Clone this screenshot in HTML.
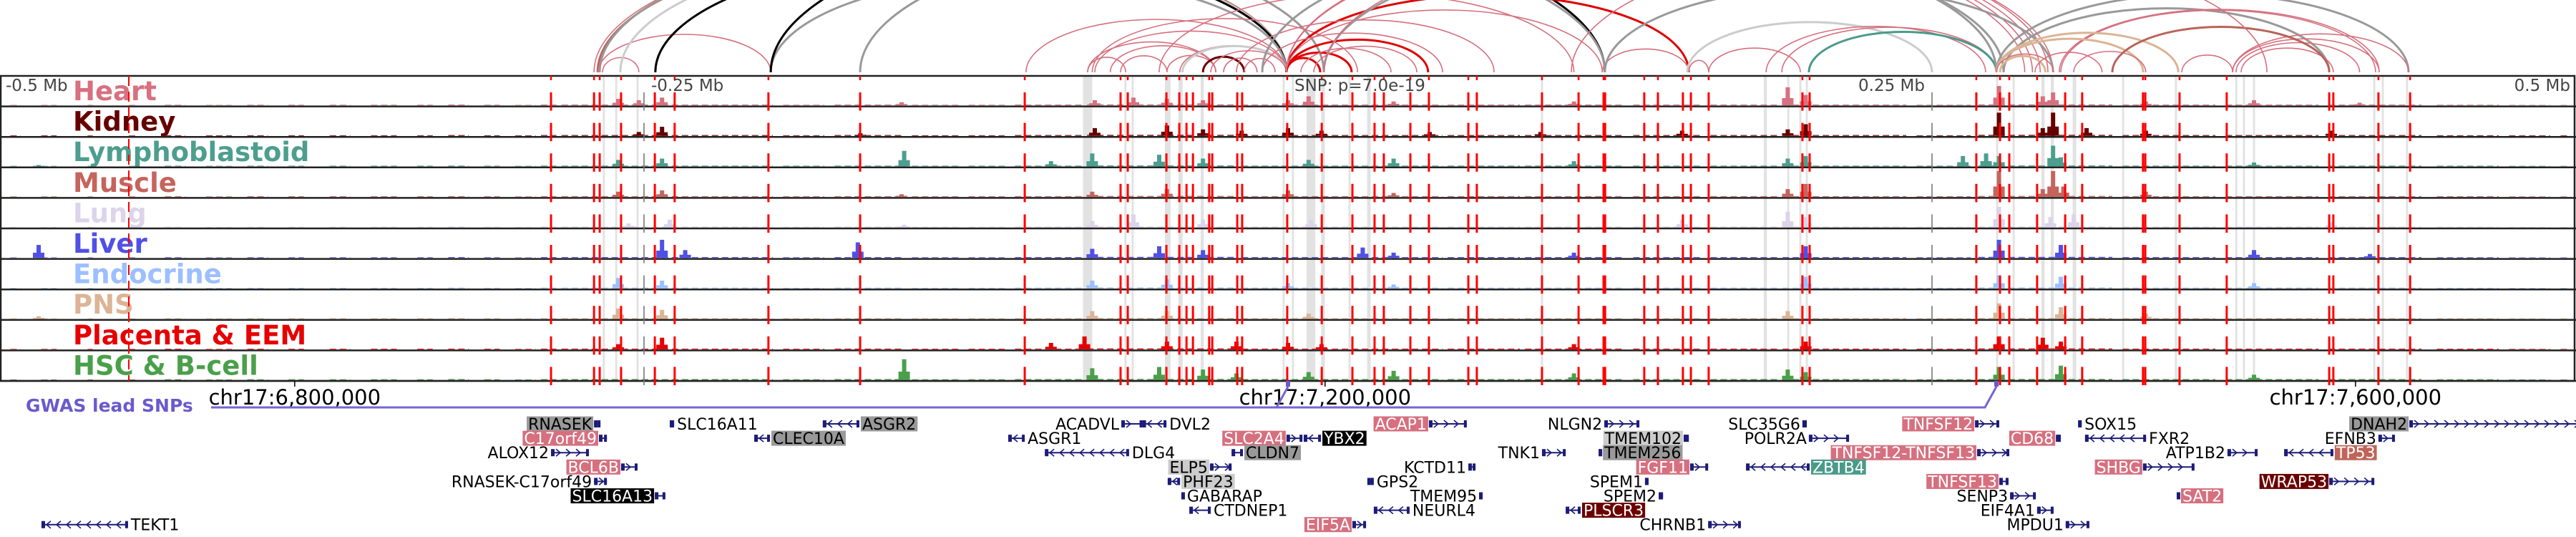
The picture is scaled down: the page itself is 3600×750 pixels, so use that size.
<!DOCTYPE html>
<html><head><meta charset="utf-8">
<style>
html,body{margin:0;padding:0;background:#fff;}
svg{display:block;}
text{font-family:"DejaVu Sans","Liberation Sans",sans-serif;}
</style></head>
<body>
<svg id="chart" width="3600" height="750" viewBox="0 0 3600 750" xmlns="http://www.w3.org/2000/svg">
<g id="arcs"></g>
<g id="bands"></g>
<g id="tracks"></g>
<g id="redlines"></g>
<g id="axis"></g>
<g id="gwas"></g>
<g id="genes"></g>
</svg>
<script>
// ---- data (kb offsets relative to lead SNP) ----
const tissues = ["Heart","Kidney","Lymphoblastoid","Muscle","Lung","Liver","Endocrine","PNS","Placenta & EEM","HSC & B-cell"];
const tissueColors = ["#d8707f","#660000","#4d9e8e","#c5645d","#dcd4ea","#5050e6","#9cbfff","#dcb495","#e60000","#4aa04a"];
const axisTickKb = [-500,-250,250,500];
const axisTickLabels = ["-0.5 Mb","-0.25 Mb","0.25 Mb","0.5 Mb"];
const snpLabel = "SNP: p=7.0e-19";
const chrTickKb = [-385.6,14.4,414.4];
const chrTickLabels = ["chr17:6,800,000","chr17:7,200,000","chr17:7,600,000"];
const gwasSnpKb = [0,275];
const indexLineKb = -450;
const redLineKb = [-286.1,-269.4,-267.2,-258.9,-245.8,-238.1,-201.7,-166.1,-102.2,-65,-62.2,-47.2,-42.2,-39.4,-36.9,-30.6,-29.4,-19.7,-17.8,-0.3,13.1,25,33.6,37.2,47.5,54.7,70,73.3,98.6,112.8,122.5,123.1,138.3,143.6,153.3,156.4,163.3,199.7,202.5,267.2,276.4,280,290.8,301.7,308.3,331.9,332.8,346.1,364.4,404.2,405.8,423.3,435.6];
const bandStartKb = [-266.0,-261.2,-252.9,-79.6,-63.5,-60.7,-47.8,-42.5,-33.9,-2.1,1.5,7.2,12.9,23.5,30.7,98.2,184.7,193.8,198.5,201.0,274.9,281.3,292.5,296.1,304.6,323.8,344.3,367.7,370.7,374.6,421.3,424.6,434.0];
const bandEndKb   = [-265.2,-260.4,-252.1,-76.0,-62.7,-59.9,-45.6,-40.9,-32.7,-1.3,2.3,10.6,14.3,24.3,32.1,99.0,185.9,194.6,199.3,201.8,275.7,282.1,293.7,297.3,306.0,324.6,345.1,368.5,371.5,375.4,422.1,425.4,434.8];
const baseSegs = [[-496,-492,.03],[-484,-478,.03],[-466,-464,.03],[-450,-447,.03],[-436,-428,.04],[-420,-410,.03],[-404,-396,.04],[-388,-382,.04],[-372,-364,.04],[-356,-346,.04],[-338,-332,.04],[-326,-318,.05],[-312,-306,.04],[-300,-292,.03],[-290,-284,.05],[-282,-200,.05],[-196,-180,.04],[-176,-150,.05],[-146,-128,.04],[-124,-110,.04],[-106,-80,.05],[-78,-20,.06],[-18,60,.05],[62,90,.05],[92,130,.05],[134,160,.05],[164,190,.05],[192,240,.05],[244,265,.04],[268,320,.06],[324,360,.05],[364,400,.05],[404,440,.05],[446,470,.04],[474,490,.03],[494,498,.03]];
const peaksHeart = [[-260,.25],[-252,.2],[-243,.3],[-150,.12],[-75,.2],[-60,.3],[-47,.25],[-33,.2],[0,.2],[8,.35],[41,.15],[111,.15],[194,.7],[201,.4],[276,.75],[293,.35],[297,.5],[333,.15],[375,.2],[416,.1]];
const peaksKidney = [[-252,.15],[-243,.35],[-166,.1],[-75,.3],[-47,.4],[-33,.25],[-18,.2],[0,.3],[13,.2],[55,.15],[98,.15],[153,.2],[194,.25],[201,.45],[276,.9],[293,.3],[297,.9],[310,.3],[333,.2],[405,.2]];
const peaksLympho = [[-485,.05],[-260,.25],[-243,.3],[-149,.6],[-92,.2],[-76,.5],[-50,.45],[-33,.3],[8,.25],[41,.3],[111,.2],[194,.3],[201,.4],[262,.4],[271,.5],[276,.4],[297,.8],[300,.35],[375,.15]];
const peaksMuscle = [[-260,.2],[-243,.25],[-150,.1],[-76,.2],[-47,.3],[0,.25],[41,.15],[194,.3],[201,.5],[276,1],[293,.3],[297,1],[301,.4],[333,.2]];
const peaksLung = [[-256,.15],[-240,.3],[-149,.1],[-76,.25],[-60,.5],[-33,.3],[9,.3],[153,.3],[194,.6],[201,.4],[276,.8],[296,.4],[305,.5],[405,.2]];
const peaksLiver = [[-485,.5],[-243,.7],[-234,.3],[-167,.6],[-76,.35],[-50,.45],[-33,.3],[29,.4],[41,.2],[111,.2],[201,.45],[276,.7],[300,.5],[375,.3],[420,.15]];
const peaksEndocrine = [[-260,.4],[-243,.3],[-76,.3],[-47,.35],[0,.2],[41,.15],[201,.45],[276,.5],[300,.45],[375,.2]];
const peaksPNS = [[-485,.1],[-260,.4],[-243,.35],[-76,.3],[-47,.3],[8,.2],[194,.3],[276,.6],[300,.45],[333,.2]];
const peaksPlacenta = [[-260,.2],[-243,.45],[-92,.25],[-79,.5],[-47,.3],[-20,.3],[0,.25],[13,.2],[111,.2],[201,.3],[276,.5],[293,.45],[300,.3]];
const peaksHSC = [[-149,.8],[-76,.45],[-50,.5],[-33,.4],[-20,.25],[8,.3],[41,.35],[111,.25],[194,.4],[201,.3],[276,.5],[300,.55],[375,.2]];
const trackPeaks = [peaksHeart,peaksKidney,peaksLympho,peaksMuscle,peaksLung,peaksLiver,peaksEndocrine,peaksPNS,peaksPlacenta,peaksHSC];
const arcStartKb = [-269.4,-268,-267.2,-266.1,-267.8,-259.2,-245.6,-200.8,-200.8,-166.1,-101.7,-77.8,-77.8,-76,-75,-69,-65,-47,-42,-41,-33,-30,-25,-17,-0.6,-0.6,-0.6,-0.6,-0.6,-0.6,-0.6,-20,-50,-10,5,10,122,155,155.6,163.3,185.6,191.7,202.2,-10,13.9,-0.6,-0.6,-0.6,-0.6,13.9,123,275,277.8,299.4,300,275,275,276.4,275,290,305,366.7,368,370,347,366.7,320,110];
const arcEndKb   = [-0.6,-0.6,13.9,-252,-200.8,-0.6,-0.6,-0.6,123,123,-0.6,-63,-28,27,-0.6,-28,-47,-28,-0.6,-0.6,-17,-0.6,-12,-5,12.5,24.7,54.4,155.6,-0.6,-0.6,122,80,111,60,40,50,155.6,250,163.3,198.9,270.8,275,275,275,277.8,286,289,292,295,297,297,435,404.2,423.6,422.2,345.6,332,294,297.2,316,333,423.6,416,405.8,366.7,435,404.2,380];
const arcColor   = ["pink","brown","gray","pink","pink","lightgray","black","gray","black","gray","pink","pink","pink","pink","pink","pink","pink","pink","pink","lightgray","darkred","pink","pink","pink","red","red","red","red","pink","pink","pink","pink","pink","pink","pink","pink","pink","lightgray","pink","pink","pink","pink","teal","gray","gray","pink","pink","pink","pink","pink","gray","gray","gray","pink","pink","tan","tan","tan","pink","pink","pink","pink","pink","pink","pink","pink","brown","pink"];
const genes = [
 ["RNASEK",1,-269.4,-266.9,1,"L","gray"],["SLC16A11",1,-240,-238.3,1,"R","none"],["ASGR2",1,-180.6,-166.4,-1,"R","gray"],
 ["C17orf49",2,-267.5,-264.4,1,"L","pink"],["CLEC10A",2,-207.2,-201.1,-1,"R","gray"],["ALOX12",3,-286.1,-271.4,1,"L","none"],
 ["BCL6B",4,-258.9,-252.5,1,"L","pink"],["RNASEK-C17orf49",5,-269.4,-264.4,1,"L","none"],["SLC16A13",6,-245.8,-241.7,1,"L","black"],
 ["TEKT1",8,-483.9,-450.3,-1,"R","none"],["ACADVL",1,-64.7,-56.5,1,"L","none"],["DVL2",1,-56.5,-47.2,-1,"R","none"],
 ["ACAP1",1,54.7,69.4,1,"L","pink"],["NLGN2",1,122.8,136.4,1,"L","none"],["SLC35G6",1,199.7,201.4,1,"L","none"],
 ["ASGR1",2,-108.6,-102.2,-1,"R","none"],["SLC2A4",2,-0.6,5.6,1,"L","pink"],["YBX2",2,6.1,12.8,-1,"R","black"],
 ["TMEM102",2,153.6,155.6,1,"L","lightgray"],["POLR2A",2,202.2,217.8,1,"L","none"],["DLG4",3,-94.4,-61.7,-1,"R","none"],
 ["CLDN7",3,-21.9,-17.5,-1,"R","gray"],["TNK1",3,98.6,107.8,1,"L","none"],["TMEM256",3,120.6,121.7,1,"R","gray"],
 ["TNFSF12-TNFSF13",3,267.5,280,1,"L","pink"],["ATP1B2",3,364.7,376.4,1,"L","none"],["TP53",3,386.7,405.8,-1,"R","brown"],
 ["ELP5",4,-30.3,-21.9,1,"L","lightgray"],["KCTD11",4,70,72.8,1,"L","none"],["FGF11",4,156.1,163.1,1,"L","pink"],
 ["ZBTB4",4,177.8,202.5,-1,"R","teal"],["SHBG",4,331.9,351.9,1,"L","pink"],["PHF23",5,-46.7,-41.9,-1,"R","lightgray"],
 ["GPS2",5,30.8,33.3,-1,"R","none"],["SPEM1",5,138.6,139.7,1,"L","none"],["TNFSF13",5,276.1,279.7,1,"L","pink"],
 ["WRAP53",5,404.2,421.7,1,"L","darkred"],["GABARAP",6,-41.4,-40.3,-1,"R","none"],["TMEM95",6,74.2,75.3,1,"L","none"],
 ["SPEM2",6,143.9,145.6,1,"L","none"],["SENP3",6,280.3,290.3,1,"L","none"],["SAT2",6,345,346.1,-1,"R","pink"],
 ["CTDNEP1",7,-38.3,-30,-1,"R","none"],["NEURL4",7,33.3,47.2,-1,"R","none"],["PLSCR3",7,107.8,113.6,-1,"R","darkred"],
 ["EIF4A1",7,290.8,297.2,1,"L","none"],["EIF5A",8,25,30.3,1,"L","pink"],["CHRNB1",8,163.1,175.8,1,"L","none"],
 ["MPDU1",8,301.9,311.1,1,"L","none"],["TNFSF12",1,266.7,276.1,1,"L","pink"],["SOX15",1,306.7,308.1,-1,"R","none"],
 ["DNAH2",1,435.3,505,1,"L","gray"],["CD68",2,298.1,300,1,"L","pink"],["FXR2",2,309.4,333.1,-1,"R","none"],
 ["EFNB3",2,423.3,429.7,1,"L","none"]
];

// ---- scales / style ----
const NS="http://www.w3.org/2000/svg";
const X = kb => 1800 + kb*3.6;
const T0=106, TH=42.6, NT=tissues.length, TB=T0+TH*NT;
const SIG=36;
const palette={pink:"#d6707f",gray:"#999999",lightgray:"#cccccc",black:"#000000",red:"#e00000",brown:"#b8645a",teal:"#4a9a8a",tan:"#dcb494",darkred:"#6b0000",none:"none"};
function mk(tag,attrs,parent){const e=document.createElementNS(NS,tag);for(const k in attrs)e.setAttribute(k,attrs[k]);parent.appendChild(e);return e;}
const $=id=>document.getElementById(id);

// arcs
const gA=$("arcs");
for(let i=0;i<arcStartKb.length;i++){
  const x1=X(arcStartKb[i]), x2=X(arcEndKb[i]); const w=Math.abs(x2-x1);
  const h=0.17*w+12; const rx=w/2, base=101;
  const c=arcColor[i]; const thick=(c==="pink")?1.6:3;
  const p=mk("path",{d:`M${x1},${base} A${rx},${h} 0 0 1 ${x2},${base}`,fill:"none",stroke:palette[c],"stroke-width":thick},gA);
  
  
}

// bands
const gB=$("bands");
for(let i=0;i<bandStartKb.length;i++){
  const x1=X(bandStartKb[i]), x2=X(bandEndKb[i]);
  const r=mk("rect",{x:x1,y:T0,width:Math.max(2.5,x2-x1),height:TB-T0,fill:"#e2e2e2"},gB);
  
  
}

// tracks
const gT=$("tracks");
for(let t=0;t<NT;t++){
  const top=T0+t*TH, bot=top+TH-1.5;
  const g=mk("g",{},gT);
  
  
  const col=tissueColors[t];
  baseSegs.forEach(s=>{
    const hh=s[2]*SIG*0.6;
    const l=mk("line",{x1:X(s[0]),x2:X(s[1]),y1:bot-hh/2,y2:bot-hh/2,stroke:col,"stroke-width":hh,"stroke-dasharray":"9 5"},g);
    
    
  });
  trackPeaks[t].forEach(p=>{
    const h=p[1]*SIG;
    const r=mk("rect",{x:X(p[0])-3,y:bot-h,width:6,height:h,fill:col},g);
    
    
    const r2=mk("rect",{x:X(p[0])-8,y:bot-h*0.4,width:16,height:h*0.4,fill:col},g);
    
    
  });
  const lab=mk("text",{x:102,y:top+34,"font-size":37,"font-weight":"bold",fill:col},g);
  lab.textContent=tissues[t];
  
  
  const ln=mk("line",{x1:0,x2:3600,y1:top+TH,y2:top+TH,stroke:"#222","stroke-width":2.5},g);
  
  
}
mk("rect",{x:1,y:T0,width:3597,height:TB-T0,fill:"none",stroke:"#222","stroke-width":2.5},gT);

// red variant lines & tick lines
const gR=$("redlines");
for(let t=0;t<NT;t++){
  const top=T0+t*TH, bot=top+TH;
  redLineKb.forEach(k=>{
    const l=mk("line",{x1:X(k),x2:X(k),y1:top+23,y2:bot+6,stroke:"#ff0000","stroke-width":3},gR);
    
    
  });
  [axisTickKb[1],axisTickKb[2]].forEach(k=>{
    const l=mk("line",{x1:X(k),x2:X(k),y1:top+23,y2:bot+6,stroke:"#777","stroke-width":1.6},gR);
    
    
  });
}
redLineKb.forEach(k=>{mk("line",{x1:X(k),x2:X(k),y1:T0,y2:T0+6,stroke:"#ff0000","stroke-width":2.5},gR);});
const il=mk("line",{x1:X(indexLineKb),x2:X(indexLineKb),y1:T0,y2:TB,stroke:"#ff0000","stroke-width":2,"stroke-dasharray":"14 8"},gR);



// axis labels
const gX=$("axis");
axisTickKb.forEach((k,i)=>{
  const neg=k<0;
  const tx=mk("text",{x:neg?X(k)+(i===0?8:10):X(k)-(i===3?8:10),y:127,"font-size":23,fill:"#444","text-anchor":neg?"start":"end"},gX);
  tx.textContent=axisTickLabels[i];
  
  
});
const sn=mk("text",{x:X(0)+9,y:127,"font-size":23,fill:"#444"},gX);
sn.textContent=snpLabel;


chrTickKb.forEach((k,i)=>{
  const tx=mk("text",{x:X(k),y:565,"font-size":29,fill:"#000","text-anchor":"middle"},gX);
  tx.textContent=chrTickLabels[i];
  
  
  mk("line",{x1:X(k),x2:X(k),y1:532,y2:540,stroke:"#000","stroke-width":1.5},gX);
});

// GWAS track
const gG=$("gwas");
const gl=mk("text",{x:36,y:575,"font-size":25,"font-weight":"bold",fill:"#6a5acd"},gG);
gl.textContent="GWAS lead SNPs";


const xs=gwasSnpKb.map(X);
let d=`M295,569 L${xs[0]-16},569 L${xs[0]},540 M${xs[0]-16},569 L${xs[1]-16},569 L${xs[1]},540`;
const gp=mk("path",{d:d,fill:"none",stroke:"#7466d4","stroke-width":3},gG);


xs.forEach(x=>{
  const m=mk("rect",{x:x-3,y:532,width:6,height:8,fill:"#6a5acd"},gG);
  
  
});

// genes
const gN=$("genes");
const labelBg={pink:"#d6707f",gray:"#999999",lightgray:"#cccccc",black:"#000000",teal:"#4a9a8a",darkred:"#6b0000",brown:"#c0645a"};
const meas=mk("text",{x:-1000,y:-1000,"font-size":22},gN);
genes.forEach(gd=>{
  const [name,row,s,e,strand,side,bg]=gd;
  const y=592+(row-1)*20.1;
  const g=mk("g",{},gN);
  
  
  const x1=X(s), x2=X(Math.min(e,505));
  mk("line",{x1:x1,x2:x2,y1:y,y2:y,stroke:"#1c1c78","stroke-width":2},g);
  mk("rect",{x:x1,y:y-5,width:Math.min(5,x2-x1+1),height:10,fill:"#1c1c78"},g);
  mk("rect",{x:x2-4,y:y-5,width:4,height:10,fill:"#1c1c78"},g);
  for(let cx=x1+10;cx<x2-6;cx+=14){
    const dd=strand>0?`M${cx-3},${y-5} L${cx+3},${y} L${cx-3},${y+5}`:`M${cx+3},${y-5} L${cx-3},${y} L${cx+3},${y+5}`;
    mk("path",{d:dd,fill:"none",stroke:"#1c1c78","stroke-width":1.6},g);
  }
  meas.textContent=name;
  const w=meas.getComputedTextLength();
  const lx=side==="L"?x1-3-w:x2+4;
  if(bg!=="none"){
    mk("rect",{x:lx-2,y:y-10.5,width:w+4,height:21,fill:labelBg[bg]},g);
  }
  const light=(bg==="gray"||bg==="lightgray"||bg==="none");
  const tx=mk("text",{x:lx,y:y+8,"font-size":22,fill:light?"#000":"#fff"},g);
  tx.textContent=name;
  
  
});
meas.remove();
</script>
</body></html>
